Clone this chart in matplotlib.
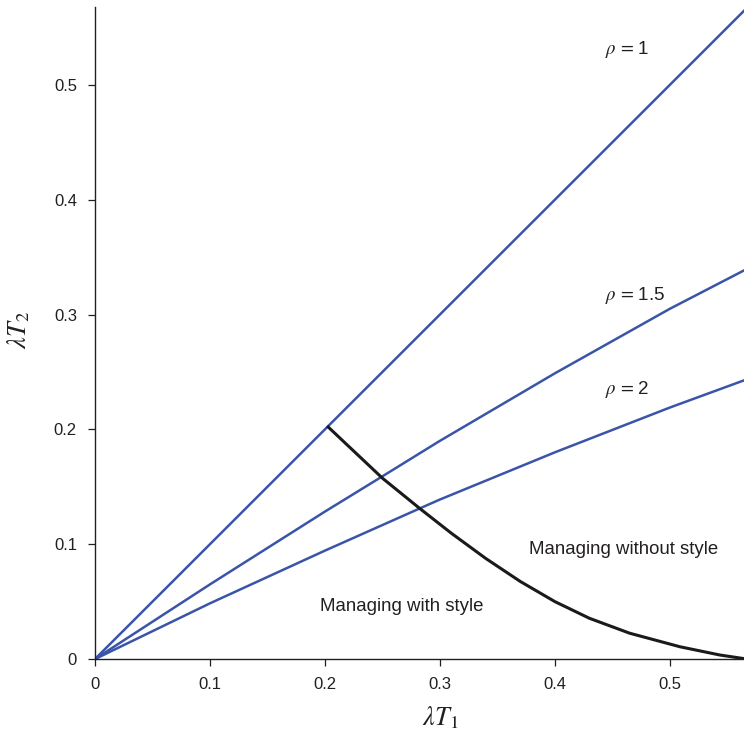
import matplotlib
matplotlib.use("Agg")
import matplotlib.pyplot as plt

# values
rho1_x = [0.0, 0.567]
rho1_y = [0.0, 0.567]

rho15_x = [0.0, 0.1, 0.2, 0.249, 0.3, 0.4, 0.5, 0.5643]
rho15_y = [0.0, 0.065, 0.1284, 0.1585, 0.190, 0.2488, 0.305, 0.3383]

rho2_x = [0.0, 0.1, 0.2, 0.2826, 0.3, 0.4, 0.5, 0.5643]
rho2_y = [0.0, 0.0485, 0.0944, 0.1312, 0.1389, 0.180, 0.219, 0.2426]

bound_x = [0.2029, 0.25, 0.2826, 0.31, 0.34, 0.37, 0.40, 0.43, 0.465, 0.5087, 0.5435, 0.5635]
bound_y = [0.2020, 0.1575, 0.1310, 0.1095, 0.0875, 0.0675, 0.0500, 0.0355, 0.0225, 0.0107, 0.0035, 0.0005]

tick_vals = [0, 0.1, 0.2, 0.3, 0.4, 0.5]
tick_labels = ["0", "0.1", "0.2", "0.3", "0.4", "0.5"]

rho_labels = [r"$\rho\,=\,$1", r"$\rho\,=\,$1.5", r"$\rho\,=\,$2"]
rho_label_pos = [(0.4435, 0.531), (0.4435, 0.317), (0.4435, 0.235)]

plt.rcParams['font.family'] = ['Liberation Sans', 'DejaVu Sans']
plt.rcParams['mathtext.fontset'] = 'stix'

blue = '#3a55a8'
ink = '#231f20'

fig = plt.figure(figsize=(7.44, 7.37), dpi=100)
ax = fig.add_axes([0.1277, 0.1058, 0.8723, 0.885])

ax.plot(rho1_x, rho1_y, color=blue, lw=1.8, solid_capstyle='butt')
ax.plot(rho15_x, rho15_y, color=blue, lw=1.8, solid_joinstyle='round')
ax.plot(rho2_x, rho2_y, color=blue, lw=1.8, solid_joinstyle='round')
ax.plot(bound_x, bound_y, color='#1a1a1a', lw=2.2, solid_joinstyle='round')

for lab, (tx, ty) in zip(rho_labels, rho_label_pos):
    ax.text(tx, ty, lab, fontsize=13.5, color=ink, va='center', ha='left')

ax.text(0.3774, 0.0957, "Managing without style", fontsize=13.4, color=ink, va='center', ha='left')
ax.text(0.1957, 0.046, "Managing with style", fontsize=13.4, color=ink, va='center', ha='left')

ax.set_xlim(0, 0.5645)
ax.set_ylim(0, 0.568)
ax.set_xticks(tick_vals)
ax.set_xticklabels(tick_labels)
ax.set_yticks(tick_vals)
ax.set_yticklabels(tick_labels)
ax.tick_params(labelsize=12, colors=ink, length=5, width=0.9, pad=8)

ax.spines['top'].set_visible(False)
ax.spines['right'].set_visible(False)
for s in ['left', 'bottom']:
    ax.spines[s].set_linewidth(1.0)
    ax.spines[s].set_color(ink)

ax.set_xlabel(r"$\lambda T_1$", fontsize=19, color=ink, va='center')
ax.set_ylabel(r"$\lambda T_2$", fontsize=19, color=ink, va='center')
ax.xaxis.set_label_coords(0.5316, -0.0905)
ax.yaxis.set_label_coords(-0.118, 0.505)

fig.savefig("out.png", dpi=100)
